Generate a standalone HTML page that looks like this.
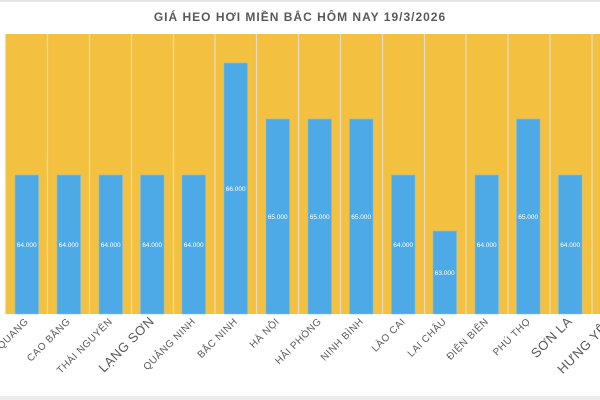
<!DOCTYPE html>
<html><head><meta charset="utf-8"><style>
html,body{margin:0;padding:0;background:#fff;width:600px;height:400px;overflow:hidden}
svg{display:block}
text{font-family:"Liberation Sans","DejaVu Sans",sans-serif}
</style></head><body>
<svg width="600" height="400" viewBox="0 0 600 400" xmlns="http://www.w3.org/2000/svg">
<rect x="0" y="0" width="600" height="400" fill="#fff"/>
<rect x="0" y="0" width="600" height="2" fill="#e6e6e6"/>
<rect x="0" y="396" width="600" height="4" fill="#ececec"/>
<text x="300" y="21" text-anchor="middle" font-size="12" font-weight="bold" fill="#595959" letter-spacing="1">GIÁ HEO HƠI MIỀN BẮC HÔM NAY 19/3/2026</text>
<rect x="5" y="34" width="600" height="280" fill="#f3c13f"/>
<g stroke="#e8dcc0" stroke-width="1.2">
<line x1="5.5" y1="34" x2="5.5" y2="314"/>
<line x1="47.5" y1="34" x2="47.5" y2="314"/>
<line x1="89.5" y1="34" x2="89.5" y2="314"/>
<line x1="131.5" y1="34" x2="131.5" y2="314"/>
<line x1="173.5" y1="34" x2="173.5" y2="314"/>
<line x1="215" y1="34" x2="215" y2="314"/>
<line x1="256.5" y1="34" x2="256.5" y2="314"/>
<line x1="298.5" y1="34" x2="298.5" y2="314"/>
<line x1="340.5" y1="34" x2="340.5" y2="314"/>
<line x1="382.5" y1="34" x2="382.5" y2="314"/>
<line x1="424.5" y1="34" x2="424.5" y2="314"/>
<line x1="466" y1="34" x2="466" y2="314"/>
<line x1="508" y1="34" x2="508" y2="314"/>
<line x1="550" y1="34" x2="550" y2="314"/>
<line x1="592" y1="34" x2="592" y2="314"/>
</g>
<g fill="#4eaae6" stroke="#7cc0ec" stroke-width="0.6">
<rect x="15" y="175" width="23.5" height="139"/>
<rect x="57" y="175" width="23.5" height="139"/>
<rect x="99" y="175" width="23.5" height="139"/>
<rect x="140.5" y="175" width="23.5" height="139"/>
<rect x="182" y="175" width="23.5" height="139"/>
<rect x="224" y="63" width="23.5" height="251"/>
<rect x="266" y="119" width="23.5" height="195"/>
<rect x="308" y="119" width="23.5" height="195"/>
<rect x="349.5" y="119" width="23.5" height="195"/>
<rect x="391.5" y="175" width="23.5" height="139"/>
<rect x="433" y="231" width="23.5" height="83"/>
<rect x="475" y="175" width="23.5" height="139"/>
<rect x="516.5" y="119" width="23.5" height="195"/>
<rect x="558.5" y="175" width="23.5" height="139"/>
</g>
<g fill="#fff" font-size="6.5" text-anchor="middle">
<text x="26.7" y="247">64.000</text>
<text x="68.7" y="247">64.000</text>
<text x="110.7" y="247">64.000</text>
<text x="152.2" y="247">64.000</text>
<text x="193.7" y="247">64.000</text>
<text x="235.7" y="191">66.000</text>
<text x="277.7" y="219">65.000</text>
<text x="319.7" y="219">65.000</text>
<text x="361.2" y="219">65.000</text>
<text x="403.2" y="247">64.000</text>
<text x="444.7" y="275">63.000</text>
<text x="486.7" y="247">64.000</text>
<text x="528.2" y="219">65.000</text>
<text x="570.2" y="247">64.000</text>
</g>
<g fill="#595959" font-size="10" text-anchor="end" letter-spacing="0.5">
<text transform="translate(29,322) rotate(-45)">TUYÊN QUANG</text>
<text transform="translate(71,322) rotate(-45)">CAO BẰNG</text>
<text transform="translate(113,322) rotate(-45)">THÁI NGUYÊN</text>
<text transform="translate(155,322) rotate(-45)" font-size="13">LẠNG SƠN</text>
<text transform="translate(196,322) rotate(-45)">QUẢNG NINH</text>
<text transform="translate(238,322) rotate(-45)">BẮC NINH</text>
<text transform="translate(280,322) rotate(-45)">HÀ NỘI</text>
<text transform="translate(322,322) rotate(-45)">HẢI PHÒNG</text>
<text transform="translate(364,322) rotate(-45)">NINH BÌNH</text>
<text transform="translate(406,322) rotate(-45)">LÀO CAI</text>
<text transform="translate(447,322) rotate(-45)">LAI CHÂU</text>
<text transform="translate(489,322) rotate(-45)">ĐIỆN BIÊN</text>
<text transform="translate(531,322) rotate(-45)">PHÚ THỌ</text>
<text transform="translate(573,322) rotate(-45)" font-size="13">SƠN LA</text>
<text transform="translate(615,322) rotate(-45)" font-size="13">HƯNG YÊN</text>
</g>
</svg>
</body></html>
